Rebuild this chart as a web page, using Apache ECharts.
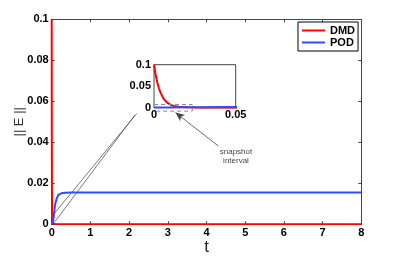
<!DOCTYPE html>
<html><head><meta charset="utf-8">
<script src="https://cdn.jsdelivr.net/npm/echarts@6/dist/echarts.min.js"></script>
<style>html,body{margin:0;padding:0;background:#fff}#c{width:399px;height:256px}</style>
</head><body><div id="c"></div>
<script>
// ---- data ----
const dmdT = [0, 0.001, 0.002, 0.003, 0.004, 0.006, 0.008, 0.010, 0.012, 0.015, 0.020, 0.025, 0.030, 0.040, 0.050, 0.1, 0.5, 8];
const dmdE = [0.1, 0.076, 0.059, 0.045, 0.035, 0.020, 0.012, 0.007, 0.004, 0.002, 0.0008, 0.0003, 0, 0, 0, 0, 0, 0];
const podT = [0, 0.01, 0.02, 0.03, 0.04, 0.05, 0.085, 0.12, 0.17, 0.25, 0.35, 0.5, 8];
const podE = [0.0002, 0.0005, 0.0008, 0.0011, 0.0015, 0.0019, 0.0094, 0.012, 0.0143, 0.0151, 0.0154, 0.0155, 0.0155];
const xTicksMain = [0, 8, 1];       // min, max, interval
const yTicksMain = [0, 0.1, 0.02];
const xTicksInset = [0, 0.05, 0.05];
const yTicksInset = [0, 0.1, 0.05];
// zoom box in the inset and connector lines (data coordinates)
const zoomBoxT = [0, 0.0234, 0.0234, 0];
const zoomBoxE = [0.0075, 0.0075, -0.008, -0.008];
const connA = [[0, 0.0037], [2.2, 0.0541]];
const connB = [[0.085, 0.0013], [2.15, 0.0533]];
const arrow = [[3.2, 0.0545], [4.305, 0.0382]];
const seriesNames = ['DMD', 'POD'];

const zip = (a, b) => a.map((v, i) => [v, b[i]]);
const FONT = 'Liberation Sans';
const axisCol = '#444';
const lbl = {fontFamily: FONT, fontWeight: 'bold', fontSize: 11, color: '#000'};

const chart = echarts.init(document.getElementById('c'), null, {renderer: 'canvas'});
chart.setOption({
  animation: false,
  textStyle: {fontFamily: FONT},
  grid: [
    {left: 51.7, top: 19.3, width: 309.6, height: 205, show: false, containLabel: false, outerBoundsMode: 'none'},
    {left: 154, top: 64.7, width: 81.7, height: 43, show: true, backgroundColor: '#fff',
     borderColor: axisCol, borderWidth: 1, z: 5, containLabel: false, outerBoundsMode: 'none'}
  ],
  legend: {
    data: seriesNames, orient: 'vertical', left: 298, top: 22,
    borderColor: '#000', borderWidth: 1, backgroundColor: '#fff',
    padding: [3, 3, 3, 4], itemGap: 1, itemWidth: 23, itemHeight: 2, icon: 'rect',
    textStyle: {fontFamily: FONT, fontWeight: 'bold', fontSize: 11, color: '#000'},
    z: 10
  },
  xAxis: [
    {type: 'value', gridIndex: 0, min: xTicksMain[0], max: xTicksMain[1], interval: xTicksMain[2],
     axisLine: {onZero: false, lineStyle: {color: axisCol}}, axisTick: {inside: true, length: 3, lineStyle: {color: axisCol}},
     axisLabel: Object.assign({margin: 3}, lbl), splitLine: {show: false},
     name: 't', nameLocation: 'middle', nameGap: 15, nameMoveOverlap: false,
     nameTextStyle: {fontFamily: FONT, fontSize: 17, color: '#222'}},
    {type: 'value', gridIndex: 0, position: 'top', min: xTicksMain[0], max: xTicksMain[1], interval: xTicksMain[2],
     axisLine: {onZero: false, lineStyle: {color: axisCol}}, axisTick: {inside: true, length: 3, lineStyle: {color: axisCol}},
     axisLabel: {show: false}, splitLine: {show: false}},
    {type: 'value', gridIndex: 1, min: xTicksInset[0], max: xTicksInset[1], interval: xTicksInset[2],
     axisLine: {show: false, onZero: false}, axisTick: {show: false},
     axisLabel: Object.assign({margin: 2}, lbl), splitLine: {show: false}, z: 6}
  ],
  yAxis: [
    {type: 'value', gridIndex: 0, min: yTicksMain[0], max: yTicksMain[1], interval: yTicksMain[2],
     axisLine: {show: true, onZero: false, lineStyle: {color: axisCol}}, axisTick: {show: true, inside: true, length: 3, lineStyle: {color: axisCol}},
     axisLabel: Object.assign({margin: 3}, lbl), splitLine: {show: false},
     name: '|| E ||', nameLocation: 'middle', nameGap: 26, nameMoveOverlap: false,
     nameTextStyle: {fontFamily: FONT, fontSize: 13, color: '#333'}},
    {type: 'value', gridIndex: 0, position: 'right', min: yTicksMain[0], max: yTicksMain[1], interval: yTicksMain[2],
     axisLine: {show: true, onZero: false, lineStyle: {color: axisCol}}, axisTick: {show: true, inside: true, length: 3, lineStyle: {color: axisCol}},
     axisLabel: {show: false}, splitLine: {show: false}},
    {type: 'value', gridIndex: 1, min: yTicksInset[0], max: yTicksInset[1], interval: yTicksInset[2],
     axisLine: {show: false, onZero: false}, axisTick: {show: false},
     axisLabel: Object.assign({margin: 3}, lbl), splitLine: {show: false}, z: 6}
  ],
  series: [
    {name: 'DMD', type: 'line', xAxisIndex: 0, yAxisIndex: 0, data: zip(dmdT, dmdE), showSymbol: false,
     lineStyle: {color: '#ff0000', width: 2}, itemStyle: {color: '#ff0000'}, z: 3},
    {name: 'POD', type: 'line', xAxisIndex: 0, yAxisIndex: 0, data: zip(podT, podE), showSymbol: false,
     lineStyle: {color: '#2f4dff', width: 2}, itemStyle: {color: '#2f4dff'}, z: 3},
    {type: 'line', xAxisIndex: 0, yAxisIndex: 0, data: connA, showSymbol: false, silent: true,
     lineStyle: {color: '#555', width: 0.8}, z: 2,
     markLine: {silent: true, symbol: ['arrow', 'none'], symbolSize: [6, 9],
       lineStyle: {color: '#444', width: 0.8, type: 'solid'}, label: {show: false},
       data: [[{coord: arrow[0]}, {coord: arrow[1]}]]}},
    {type: 'line', xAxisIndex: 0, yAxisIndex: 0, data: connB, showSymbol: false, silent: true,
     lineStyle: {color: '#555', width: 0.8}, z: 2},
    {name: 'DMD', type: 'line', xAxisIndex: 2, yAxisIndex: 2, data: zip(dmdT, dmdE), showSymbol: false,
     lineStyle: {color: '#ff0000', width: 2}, z: 8},
    {name: 'POD', type: 'line', xAxisIndex: 2, yAxisIndex: 2, data: zip(podT, podE), showSymbol: false,
     lineStyle: {color: '#2f4dff', width: 2}, z: 9},
    {type: 'line', xAxisIndex: 2, yAxisIndex: 2, data: zip(zoomBoxT, zoomBoxE), showSymbol: false, silent: true,
     clip: false, lineStyle: {color: '#888', width: 1, type: [4, 3]}, z: 10}
  ],
  graphic: [
    {type: 'text', x: 236, y: 147, z: 20,
     style: {text: 'snapshot\ninterval', fill: '#444', font: '8px "Liberation Sans"', textAlign: 'center', lineHeight: 9}}
  ]
});
</script></body></html>
